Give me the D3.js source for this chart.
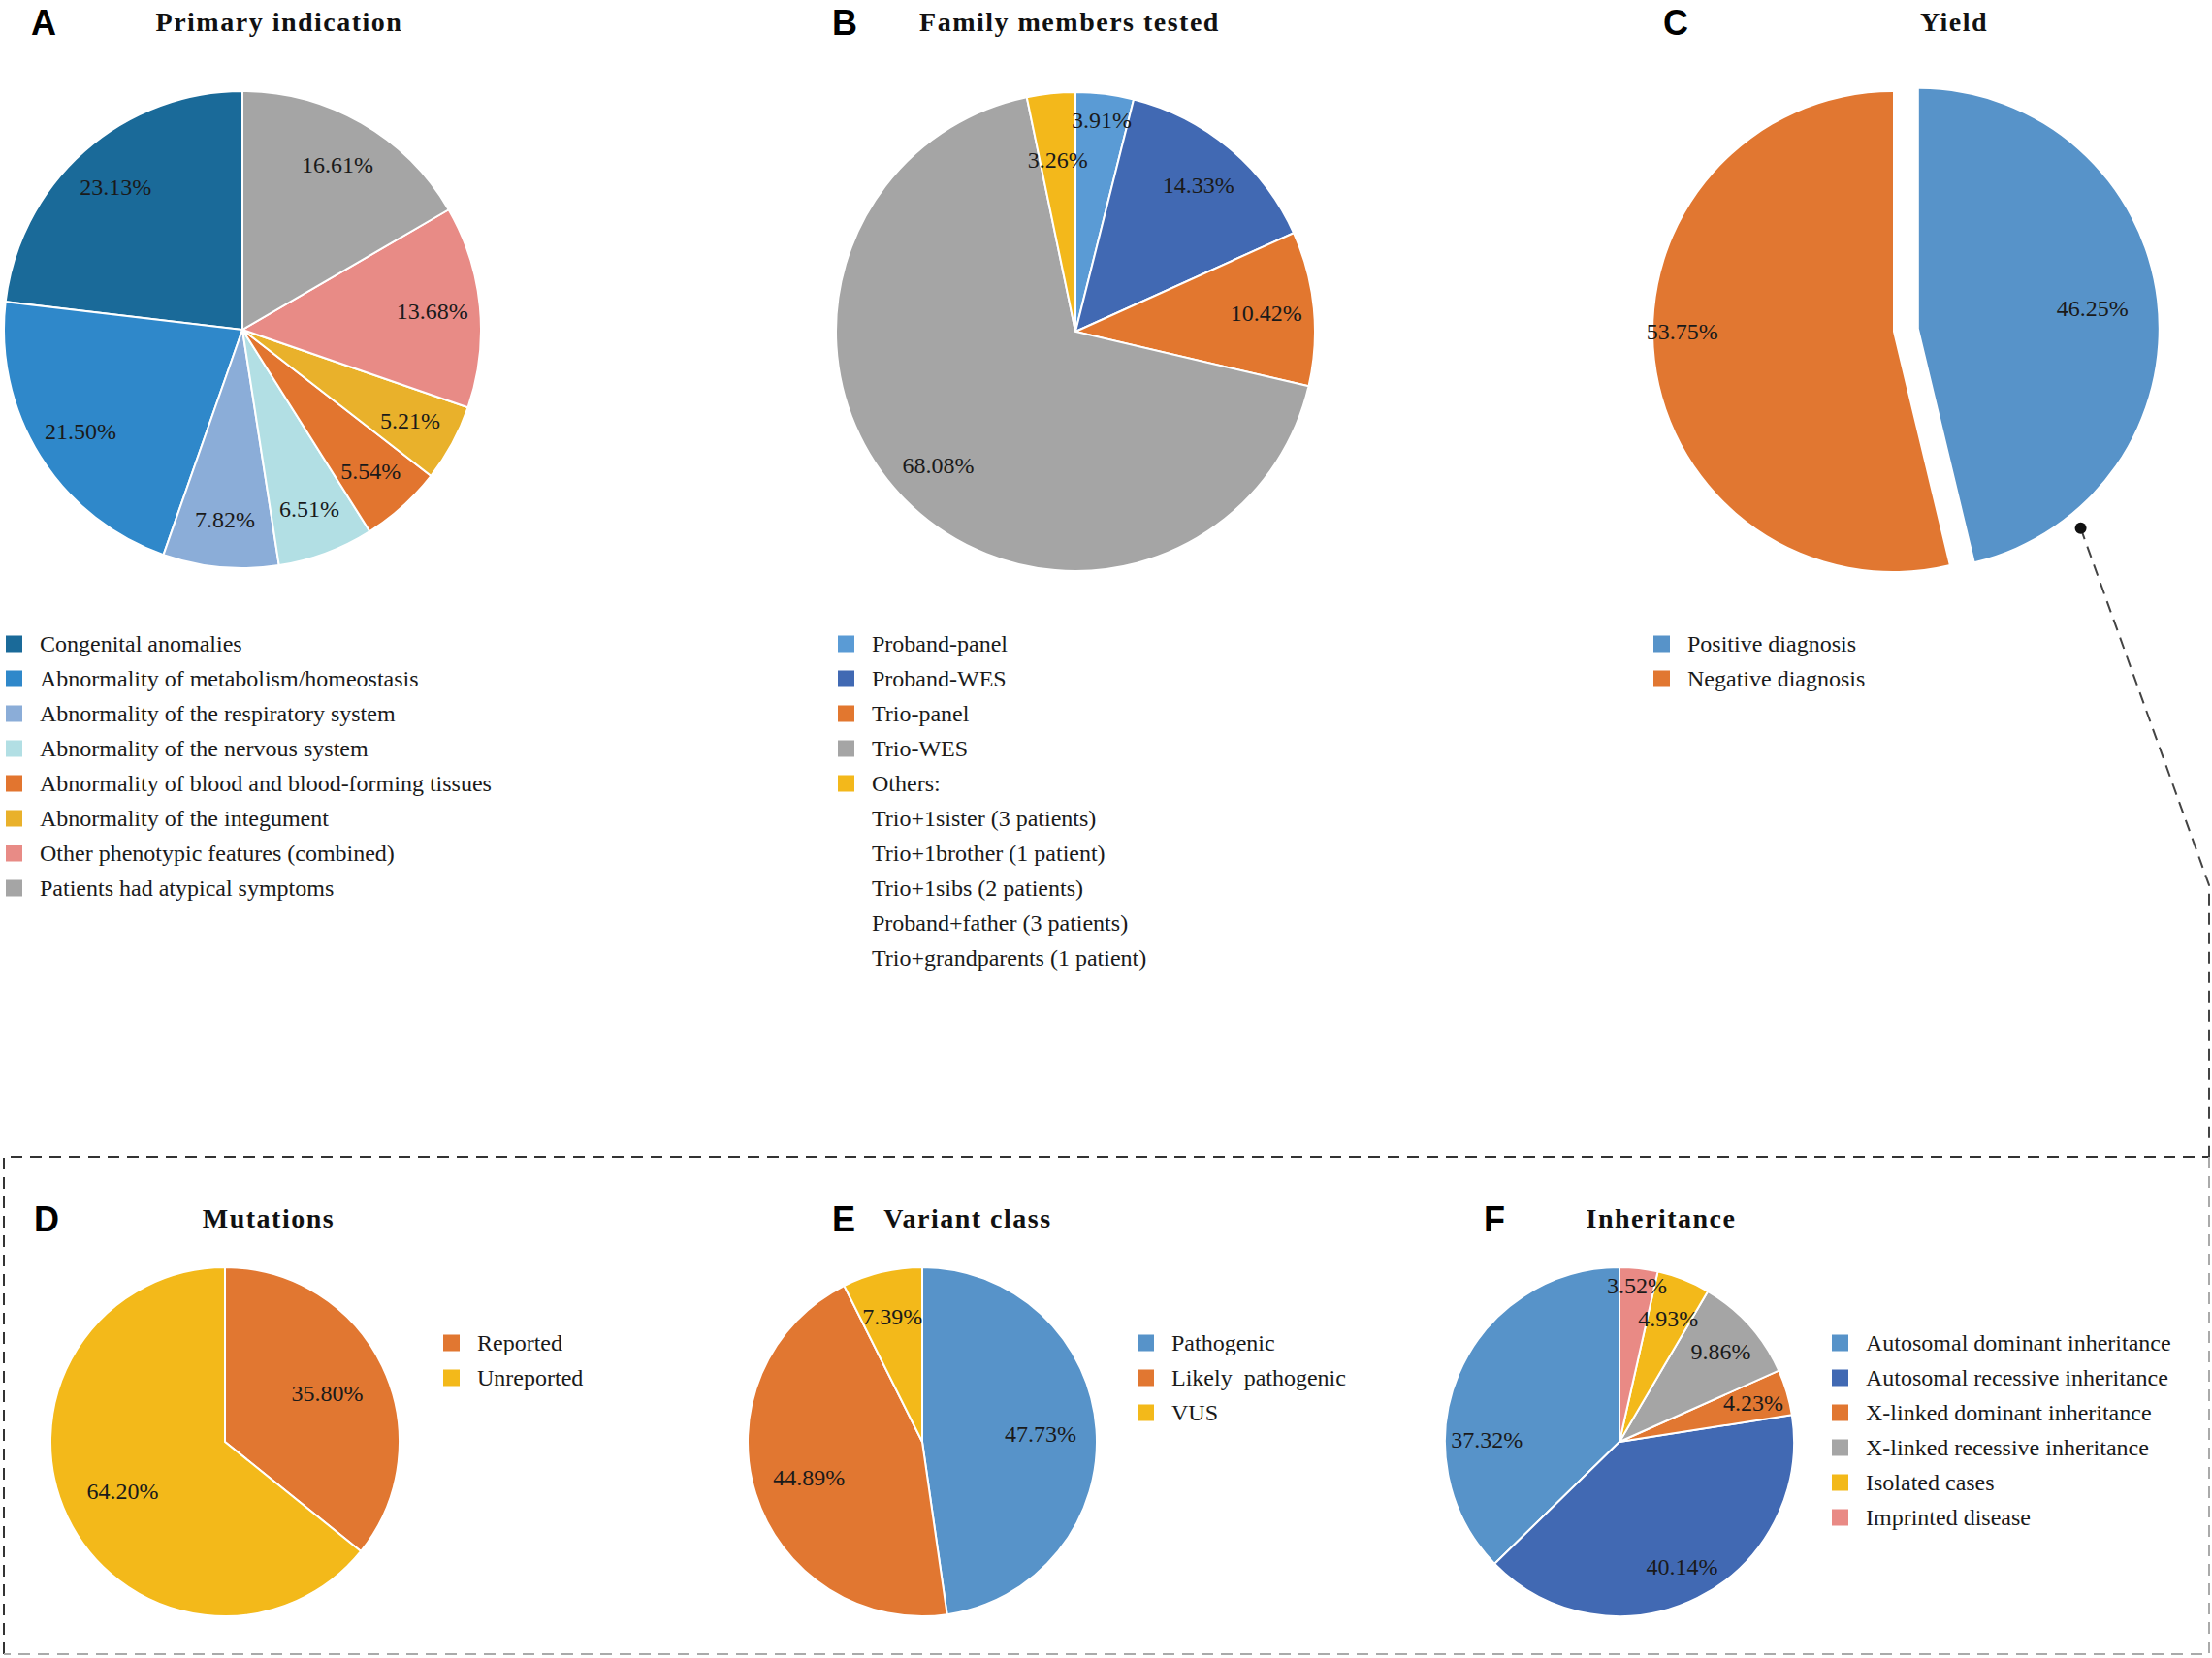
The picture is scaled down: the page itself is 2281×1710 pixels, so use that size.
<!DOCTYPE html>
<meta charset="utf-8">
<style>
body{
	margin:0;
	background:#fff;
}
text{
	font-family:"Liberation Serif","Times New Roman",serif;
	fill:#1a1a1a;
}
.panel{
	font-family:"Liberation Sans",Arial,sans-serif;
	font-weight:bold;
	font-size:36px;
	fill:#000;
}
.title{
	font-weight:bold;
	font-size:28px;
	letter-spacing:1.5px;
	fill:#111;
}
.pct{
	font-size:24px;
}
.leg{
	font-size:24px;
	white-space:pre;
}
</style>
<script src="https://cdn.jsdelivr.net/npm/d3@7"></script>
<body>
<div id="chart"></div>
<script>

// A - primary indication
var primaryLabels = ["Congenital anomalies","Abnormality of metabolism/homeostasis","Abnormality of the respiratory system","Abnormality of the nervous system","Abnormality of blood and blood-forming tissues","Abnormality of the integument","Other phenotypic features (combined)","Patients had atypical symptoms"]
var primaryValues = [23.13,21.50,7.82,6.51,5.54,5.21,13.68,16.61]

// B - family members tested
var familyLabels = ["Proband-panel","Proband-WES","Trio-panel","Trio-WES","Others:"]
var familyValues = [3.91,14.33,10.42,68.08,3.26]
var familyOthers = ["Trio+1sister (3 patients)","Trio+1brother (1 patient)","Trio+1sibs (2 patients)","Proband+father (3 patients)","Trio+grandparents (1 patient)"]

// C - yield
var yieldLabels = ["Positive diagnosis","Negative diagnosis"]
var yieldValues = [46.25,53.75]

// D - mutations
var mutationLabels = ["Reported","Unreported"]
var mutationValues = [35.80,64.20]

// E - variant class
var variantLabels = ["Pathogenic","Likely  pathogenic","VUS"]
var variantValues = [47.73,44.89,7.39]

// F - inheritance
var inheritLabels = ["Autosomal dominant inheritance","Autosomal recessive inheritance","X-linked dominant inheritance","X-linked recessive inheritance","Isolated cases","Imprinted disease"]
var inheritValues = [37.32,40.14,4.23,9.86,4.93,3.52]

var primaryColors = ["#1a6a99","#2f88ca","#8badd8","#b2dfe4","#e2752f","#e9b12b","#e88b86","#a5a5a5"]
var familyColors = ["#5a9bd5","#4169b3","#e2772f","#a5a5a5","#f3b81b"]
var yieldColors = ["#5793c9","#e17731"]
var mutationColors = ["#e17731","#f3b91a"]
var variantColors = ["#5793c9","#e17731","#f3b91a"]
var inheritColors = ["#5793c9","#4169b3","#e17731","#a5a5a5","#f3b91a","#e98a85"]

var W = 2281, H = 1710
var svg = d3.select("#chart").append("svg").attr("width",W).attr("height",H)
var fmt = d3.format(".2f")
var deg = Math.PI/180

function drawPie(labels, values, colors, o){
	var color = d3.scaleOrdinal().domain(labels).range(colors)
	var data = labels.map(function(l,i){ return {label:l, value:values[i]} })
	var pie = d3.pie().sort(null).value(function(d){ return d.value })
		.startAngle(0).endAngle(o.dir*2*Math.PI)
	var arcs = pie(data)
	var arc = d3.arc().innerRadius(0).outerRadius(o.r)
	function shift(d,i){
		if(o.explode==null || o.explode!=i) return [0,0]
		var m = (d.startAngle+d.endAngle)/2
		return [Math.sin(m)*o.explodeBy, -Math.cos(m)*o.explodeBy]
	}
	// label radius as a share of r, and optional angle, overridable per slice
	function labPos(d,i){
		var k = (o.lks && o.lks[i]!=null) ? o.lks[i] : o.lk
		var p
		if(o.las && o.las[i]!=null){
			var a = o.las[i]*deg
			p = [Math.sin(a)*o.r*k, -Math.cos(a)*o.r*k]
		} else {
			p = d3.arc().innerRadius(o.r*k).outerRadius(o.r*k).centroid(d)
		}
		var s = shift(d,i)
		return [p[0]+s[0], p[1]+s[1]]
	}
	var g = svg.append("g").attr("transform","translate("+o.cx+","+o.cy+")")
	g.selectAll("path").data(arcs).enter().append("path")
		.attr("d",arc)
		.attr("transform",function(d,i){ return "translate("+shift(d,i)+")" })
		.attr("fill",function(d){ return color(d.data.label) })
		.attr("stroke",o.stroke?"#fff":"none").attr("stroke-width",2)
	// labels on top of every slice
	g.selectAll("text").data(arcs).enter().append("text").attr("class","pct")
		.attr("transform",function(d,i){ return "translate("+labPos(d,i)+")" })
		.attr("text-anchor","middle").attr("dy","0.35em")
		.text(function(d){ return fmt(d.data.value)+"%" })
	return {g:g, arcs:arcs}
}

function drawLegend(x, y, labels, colors, extra){
	var g = svg.append("g").attr("transform","translate("+x+","+y+")")
	var rows = g.selectAll("g").data(labels).enter().append("g")
		.attr("transform",function(d,i){ return "translate(0,"+(i*36)+")" })
	rows.append("rect").attr("x",0).attr("y",-8.5).attr("width",17).attr("height",17)
		.attr("fill",function(d,i){ return colors[i] })
	rows.append("text").attr("class","leg").attr("x",35).attr("dy","0.35em").text(function(d){ return d })
	if(extra){
		g.selectAll("text.extra").data(extra).enter().append("text").attr("class","leg extra")
			.attr("x",35).attr("y",function(d,i){ return (labels.length+i)*36 })
			.attr("dy","0.35em").text(function(d){ return d })
	}
}

function heading(letter, lx, title, tx, y){
	svg.append("text").attr("class","panel").attr("x",lx).attr("y",y+4).text(letter)
	svg.append("text").attr("class","title").attr("x",tx).attr("y",y).attr("text-anchor","middle").text(title)
}

// top row
heading("A",32,"Primary indication",288,32)
heading("B",858,"Family members tested",1103,32)
heading("C",1715,"Yield",2015,32)

drawPie(primaryLabels, primaryValues, primaryColors, {cx:250,cy:340,r:246,dir:-1,lk:0.8,stroke:true})
drawPie(familyLabels, familyValues, familyColors, {cx:1109,cy:342,r:247,dir:1,lk:0.8,lks:[0.89,null,null,null,0.72],stroke:true})
var yp = drawPie(yieldLabels, yieldValues, yieldColors, {cx:1952,cy:342,r:247,dir:1,lk:0.78,lks:[0.73,0.88],las:[null,270],explode:0,explodeBy:27,stroke:false})

drawLegend(6,664,primaryLabels,primaryColors)
drawLegend(864,664,familyLabels,familyColors,familyOthers)
drawLegend(1705,664,yieldLabels,yieldColors)

// bottom row
heading("D",35,"Mutations",277,1266)
heading("E",858,"Variant class",998,1266)
heading("F",1530,"Inheritance",1713,1266)

drawPie(mutationLabels, mutationValues, mutationColors, {cx:232,cy:1487,r:180,dir:1,lk:0.65,stroke:true})
drawPie(variantLabels, variantValues, variantColors, {cx:951,cy:1487,r:180,dir:1,lk:0.68,lks:[null,null,0.74],stroke:true})
drawPie(inheritLabels, inheritValues, inheritColors, {cx:1670,cy:1487,r:180,dir:-1,lk:0.8,lks:[0.76,null,null,0.78,0.76,0.9],las:[271],stroke:true})

drawLegend(457,1385,mutationLabels,mutationColors)
drawLegend(1173,1385,variantLabels,variantColors)
drawLegend(1889,1385,inheritLabels,inheritColors)

// callout from the positive slice down to the dashed box
var pos = yp.arcs[0]
var pm = (pos.startAngle+pos.endAngle)/2
var bx = 1952+Math.sin(pm)*27, by = 342-Math.cos(pm)*27
var da = 141*deg, dr = 247+18
var dot = [bx+Math.sin(da)*dr, by-Math.cos(da)*dr]

var boxL = 4, boxR = 2278, boxT = 1193, boxB = 1706

svg.append("path")
	.attr("d",d3.line()([dot,[boxR,913],[boxR,boxT]]))
	.attr("fill","none").attr("stroke","#444").attr("stroke-width",2).attr("stroke-dasharray","12,8")
svg.append("circle").attr("cx",dot[0]).attr("cy",dot[1]).attr("r",6).attr("fill","#111")

svg.append("path").attr("d",d3.line()([[boxL,boxB],[boxL,boxT],[boxR,boxT]]))
	.attr("fill","none").attr("stroke","#333").attr("stroke-width",2).attr("stroke-dasharray","12,8")
svg.append("path").attr("d",d3.line()([[boxR,boxT],[boxR,boxB],[boxL,boxB]]))
	.attr("fill","none").attr("stroke","#aaa").attr("stroke-width",2).attr("stroke-dasharray","12,8")

</script>
